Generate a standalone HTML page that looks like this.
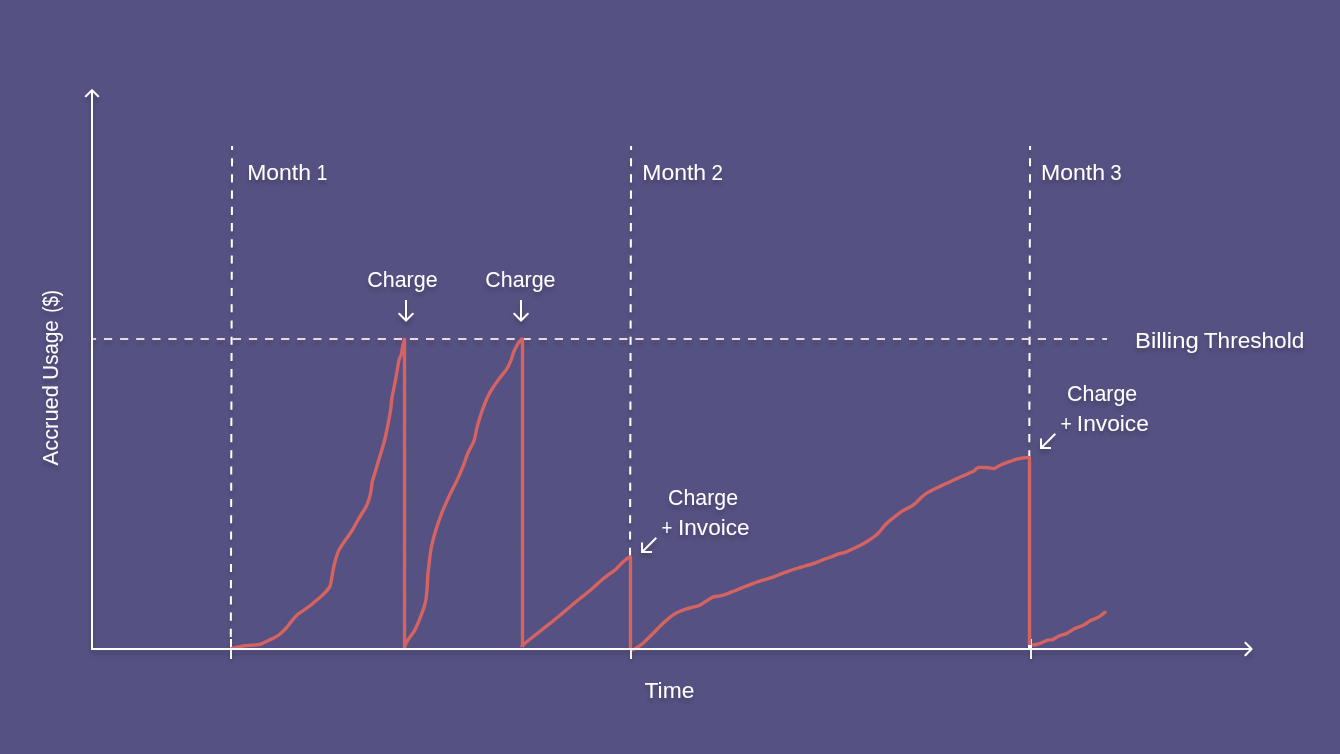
<!DOCTYPE html>
<html><head><meta charset="utf-8"><style>
html,body{margin:0;padding:0;background:#555182;width:1340px;height:754px;overflow:hidden}
svg{display:block}
text{font-family:"Liberation Sans",sans-serif;font-size:22.8px;fill:#fff}
</style></head><body>
<svg width="1340" height="754" viewBox="0 0 1340 754">
<defs><filter id="sh" x="-5%" y="-5%" width="110%" height="120%"><feDropShadow dx="0" dy="4" stdDeviation="2" flood-color="#000" flood-opacity="0.2"/></filter></defs>
<g filter="url(#sh)">
<g stroke="#fff" stroke-width="2" fill="none">
<line x1="232.08" y1="146" x2="230.82" y2="637" stroke-dasharray="8.1 8.13" stroke-dashoffset="4.1"/>
<line x1="631.08" y1="146" x2="630.03" y2="556" stroke-dasharray="8.1 8.13" stroke-dashoffset="4.1"/>
<line x1="1030.08" y1="146" x2="1029.28" y2="458" stroke-dasharray="8.1 8.13" stroke-dashoffset="4.1"/>
<line x1="231" y1="639" x2="231" y2="659"/>
<line x1="631" y1="639" x2="631" y2="659"/>
<line x1="1031" y1="639" x2="1031" y2="659"/>
</g>
<line x1="92" y1="339" x2="1107" y2="339" stroke="#e9d9d9" stroke-width="2" stroke-dasharray="8.2 7.9" stroke-dashoffset="4.1"/>
</g>
<path d="M231.0,649.0 C231.2,648.9 230.9,648.6 232.1,648.3 C233.3,647.9 236.1,647.3 238.3,646.9 C240.5,646.5 242.9,646.0 245.2,645.7 C247.5,645.4 249.8,645.4 252.1,645.2 C254.4,645.0 257.3,644.8 259.0,644.5 C260.7,644.2 260.8,644.1 262.5,643.4 C264.2,642.6 267.1,641.1 269.4,640.0 C271.7,638.9 274.2,637.9 276.3,636.6 C278.4,635.3 280.1,633.9 281.8,632.4 C283.5,630.9 285.0,629.4 286.6,627.6 C288.2,625.8 289.6,623.6 291.4,621.4 C293.2,619.2 295.6,616.4 297.5,614.6 C299.4,612.9 301.0,612.1 302.8,610.9 C304.6,609.7 306.3,608.5 308.1,607.2 C309.9,605.9 311.6,604.4 313.4,602.9 C315.2,601.4 316.9,600.0 318.7,598.5 C320.5,597.0 322.2,595.4 324.0,593.6 C325.8,591.8 328.2,589.3 329.3,587.5 C330.4,585.7 330.4,584.6 330.9,582.7 C331.3,580.9 331.5,579.1 332.0,576.4 C332.5,573.6 333.0,570.1 333.9,566.2 C334.8,562.3 336.5,556.3 337.6,553.2 C338.7,550.1 339.0,549.9 340.4,547.6 C341.8,545.3 344.0,542.2 346.0,539.3 C348.0,536.4 350.5,533.0 352.4,530.0 C354.3,527.0 355.6,524.1 357.2,521.4 C358.8,518.6 360.4,515.9 361.9,513.5 C363.3,511.1 364.7,509.5 365.9,507.1 C367.1,504.7 368.2,502.0 369.1,499.1 C370.0,496.2 370.7,492.5 371.2,489.6 C371.7,486.7 371.7,484.2 372.3,481.6 C372.9,479.0 373.5,477.7 374.7,473.7 C375.9,469.7 377.8,463.0 379.4,457.7 C381.0,452.4 382.8,447.1 384.2,441.8 C385.6,436.5 386.6,431.2 387.7,425.9 C388.8,420.6 389.9,414.5 390.6,410.0 C391.3,405.5 391.2,402.4 391.8,398.7 C392.4,395.0 393.2,391.6 393.9,388.0 C394.6,384.4 395.4,380.9 396.0,377.4 C396.6,373.9 397.3,369.8 397.8,366.8 C398.3,363.8 398.6,361.5 399.2,359.4 C399.8,357.3 400.7,356.4 401.3,354.1 C401.9,351.8 402.4,348.1 402.9,345.6 C403.4,343.1 404.2,340.4 404.5,339.3 L404.5,648 M404.5,648.0 C404.6,647.5 404.7,646.4 405.3,645.0 C405.9,643.6 406.4,642.1 408.0,639.7 C409.6,637.3 412.6,634.0 414.6,630.4 C416.6,626.8 418.3,622.2 419.9,618.4 C421.4,614.6 422.9,610.9 423.9,607.8 C424.9,604.7 425.3,603.3 425.9,599.8 C426.4,596.3 426.9,591.0 427.2,586.6 C427.5,582.2 427.7,576.1 427.9,573.3 C428.1,570.5 427.9,574.1 428.4,570.0 C428.9,565.9 429.9,555.4 431.1,548.8 C432.3,542.2 433.9,536.5 435.8,530.3 C437.7,524.1 440.0,517.6 442.3,511.7 C444.6,505.8 447.2,500.3 449.7,495.0 C452.2,489.7 454.9,484.8 457.1,480.1 C459.3,475.5 460.8,471.7 462.7,467.1 C464.6,462.5 466.4,456.6 468.3,452.3 C470.2,448.0 472.7,444.2 473.9,441.1 C475.1,438.0 475.1,436.1 475.7,433.7 C476.3,431.2 476.3,430.0 477.3,426.4 C478.3,422.8 480.0,416.7 481.7,411.8 C483.4,406.9 485.6,401.4 487.5,397.2 C489.4,393.0 491.2,390.3 493.4,386.9 C495.6,383.5 498.5,379.6 500.7,376.7 C502.9,373.8 504.8,372.1 506.5,369.4 C508.2,366.7 509.7,363.6 510.9,360.7 C512.1,357.8 512.7,354.6 513.8,351.9 C514.9,349.2 516.1,346.7 517.4,344.6 C518.6,342.5 520.4,340.4 521.3,339.5 C522.1,338.6 522.3,339.3 522.5,339.3 L522.5,647 M522.5,647.0 C522.8,646.5 520.4,647.2 524.0,644.1 C527.6,641.0 537.9,633.0 543.9,628.2 C549.9,623.4 554.6,619.8 559.8,615.5 C565.0,611.2 571.1,605.7 575.0,602.5 C578.9,599.3 580.4,598.2 583.0,596.1 C585.6,594.0 588.2,592.0 590.9,589.8 C593.5,587.5 596.9,584.4 598.9,582.6 C600.9,580.8 601.5,580.1 602.8,579.0 C604.1,577.9 605.5,576.9 606.8,575.9 C608.1,574.9 609.5,574.0 610.8,573.1 C612.1,572.2 613.5,571.4 614.8,570.3 C616.1,569.2 617.5,567.6 618.8,566.3 C620.1,565.0 621.4,563.5 622.7,562.3 C624.0,561.0 625.6,559.6 626.7,558.8 C627.8,557.9 628.8,557.5 629.4,557.2 C630.0,556.9 630.3,557.0 630.5,557.0 L630.5,648 M631.6,650.2 C632.0,650.0 632.8,650.0 634.3,649.1 C635.8,648.2 638.9,646.5 640.9,645.0 C642.9,643.5 644.5,641.8 646.3,640.1 C648.1,638.4 649.9,636.5 651.7,634.7 C653.5,632.9 655.4,631.0 657.2,629.2 C659.0,627.4 660.8,625.5 662.6,623.8 C664.4,622.1 666.2,620.4 668.0,618.9 C669.8,617.4 671.7,615.8 673.5,614.6 C675.3,613.4 677.1,612.6 678.9,611.8 C680.7,611.0 682.5,610.3 684.3,609.7 C686.1,609.1 688.0,608.5 689.8,608.0 C691.6,607.5 693.6,607.2 695.2,606.7 C696.8,606.2 698.2,606.0 699.6,605.3 C701.0,604.6 702.6,603.4 703.9,602.6 C705.2,601.8 705.9,601.4 707.5,600.4 C709.1,599.4 711.3,597.6 713.4,596.9 C715.5,596.1 717.9,596.4 720.1,595.9 C722.4,595.4 724.6,594.7 726.9,593.9 C729.1,593.1 731.4,592.1 733.6,591.2 C735.8,590.3 738.1,589.4 740.3,588.5 C742.5,587.6 744.8,586.8 747.0,585.9 C749.2,585.0 751.5,584.1 753.7,583.2 C755.9,582.4 758.1,581.5 760.4,580.8 C762.6,580.1 765.0,579.5 767.2,578.8 C769.5,578.1 771.7,577.6 773.9,576.8 C776.1,576.0 778.6,574.9 780.6,574.1 C782.6,573.3 784.1,572.9 786.0,572.2 C787.9,571.5 789.6,570.7 791.7,570.0 C793.8,569.3 796.2,568.7 798.4,568.0 C800.6,567.3 802.9,566.7 805.1,566.0 C807.4,565.3 809.6,564.7 811.9,564.0 C814.1,563.3 816.4,562.5 818.6,561.6 C820.8,560.8 823.1,559.7 825.3,558.9 C827.5,558.1 829.8,557.4 832.0,556.6 C834.2,555.8 836.5,554.6 838.7,553.9 C840.9,553.2 842.6,553.2 845.0,552.3 C847.4,551.4 850.4,549.9 853.0,548.7 C855.6,547.5 858.2,546.5 860.9,545.1 C863.5,543.7 866.5,541.8 868.9,540.3 C871.2,538.8 873.3,537.3 875.0,536.0 C876.7,534.7 877.2,534.3 879.0,532.3 C880.8,530.3 883.4,526.7 885.9,524.2 C888.4,521.7 891.2,519.5 893.9,517.4 C896.5,515.3 899.1,513.1 901.8,511.4 C904.4,509.7 907.8,508.1 909.8,507.0 C911.8,505.9 912.5,505.7 913.8,504.7 C915.1,503.7 916.4,502.4 917.7,501.1 C919.0,499.8 920.4,498.3 921.7,497.1 C923.0,495.9 923.7,495.2 925.7,493.9 C927.7,492.6 931.0,490.9 933.6,489.5 C936.2,488.1 938.9,486.9 941.6,485.6 C944.3,484.4 947.2,483.1 949.6,482.0 C952.0,480.9 954.1,479.9 956.3,478.9 C958.5,477.9 960.6,476.9 962.7,476.0 C964.8,475.1 967.1,474.1 969.0,473.2 C970.9,472.3 972.8,471.7 974.1,470.9 C975.4,470.1 975.5,469.0 976.6,468.4 C977.7,467.8 978.6,467.5 980.5,467.4 C982.4,467.3 985.8,467.6 988.1,467.8 C990.4,468.0 992.7,468.7 994.4,468.4 C996.1,468.1 996.6,467.0 998.2,466.2 C999.8,465.4 1001.9,464.4 1003.9,463.6 C1005.9,462.8 1008.2,462.1 1010.3,461.4 C1012.4,460.7 1014.5,459.8 1016.6,459.2 C1018.7,458.6 1021.1,458.2 1023.0,457.9 C1024.9,457.6 1026.9,457.7 1028.0,457.6 C1029.1,457.6 1029.2,457.6 1029.5,457.6 L1029.5,645 M1032.1,645.2 C1033.2,645.0 1036.0,644.8 1038.6,643.9 C1041.2,643.0 1045.6,640.8 1047.9,640.1 C1050.2,639.4 1050.7,640.4 1052.5,639.7 C1054.3,639.0 1056.7,637.0 1059.0,636.0 C1061.3,635.0 1063.9,634.8 1066.4,633.6 C1068.9,632.4 1071.1,630.4 1073.9,629.0 C1076.7,627.6 1080.3,626.7 1083.1,625.3 C1085.9,623.9 1088.0,622.0 1090.6,620.6 C1093.2,619.2 1096.5,618.3 1098.9,616.9 C1101.3,615.5 1104.0,613.1 1105.0,612.3" stroke="#d46362" stroke-width="3.4" fill="none" stroke-linejoin="round" stroke-linecap="butt"/>
<circle cx="1105" cy="612.3" r="1.7" fill="#d46362"/>
<rect x="1028" y="645" width="4" height="4" fill="#fff"/>
<g filter="url(#sh)">
<g stroke="#fff" stroke-width="2" fill="none">
<line x1="92" y1="650" x2="92" y2="90.5"/>
<polyline points="85.8,96.3 92,90.1 98.2,96.3" stroke-linejoin="round" stroke-linecap="round"/>
<line x1="91" y1="649" x2="1251" y2="649"/>
<polyline points="1245.4,642.8 1251.6,649 1245.4,655.2" stroke-linejoin="round" stroke-linecap="round"/>
<line x1="406" y1="300" x2="406" y2="320"/>
<polyline points="399.2,313.8 406,320.6 412.8,313.8" stroke-linejoin="round" stroke-linecap="round"/>
<line x1="521" y1="300" x2="521" y2="320"/>
<polyline points="514.2,313.8 521,320.6 527.8,313.8" stroke-linejoin="round" stroke-linecap="round"/>
<line x1="656.3" y1="537.8" x2="643" y2="551.1"/>
<polyline points="642,542.4 642,552 652,552"/>
<line x1="1055.3" y1="433.8" x2="1042" y2="447.1"/>
<polyline points="1041,438.4 1041,448 1051,448"/>
</g>
<text x="247.21" y="180" textLength="63.73" lengthAdjust="spacingAndGlyphs">Month</text><text x="316.76" y="180" textLength="10.64" lengthAdjust="spacingAndGlyphs">1</text><text x="642.31" y="180" textLength="63.83" lengthAdjust="spacingAndGlyphs">Month</text><text x="711.38" y="180" textLength="11.51" lengthAdjust="spacingAndGlyphs">2</text><text x="1041.00" y="180" textLength="64.04" lengthAdjust="spacingAndGlyphs">Month</text><text x="1110.36" y="180" textLength="11.43" lengthAdjust="spacingAndGlyphs">3</text><text x="367.24" y="287" textLength="70.38" lengthAdjust="spacingAndGlyphs">Charge</text><text x="485.34" y="287" textLength="70.18" lengthAdjust="spacingAndGlyphs">Charge</text><text x="1135.09" y="347.5" textLength="63.61" lengthAdjust="spacingAndGlyphs">Billing</text><text x="1203.80" y="347.5" textLength="100.46" lengthAdjust="spacingAndGlyphs">Threshold</text><text x="668.04" y="505" textLength="69.97" lengthAdjust="spacingAndGlyphs">Charge</text><text x="661.51" y="535" textLength="10.88" lengthAdjust="spacingAndGlyphs">+</text><text x="678.04" y="535" textLength="71.51" lengthAdjust="spacingAndGlyphs">Invoice</text><text x="1067.04" y="401" textLength="70.18" lengthAdjust="spacingAndGlyphs">Charge</text><text x="1060.38" y="431" textLength="11.24" lengthAdjust="spacingAndGlyphs">+</text><text x="1076.82" y="431" textLength="72.04" lengthAdjust="spacingAndGlyphs">Invoice</text><text x="644.49" y="698" textLength="49.85" lengthAdjust="spacingAndGlyphs">Time</text><text x="0" y="0" transform="translate(58.20,465.41) rotate(-90)" textLength="80.37" lengthAdjust="spacingAndGlyphs">Accrued</text><text x="0" y="0" transform="translate(58.20,379.67) rotate(-90)" textLength="59.42" lengthAdjust="spacingAndGlyphs">Usage</text><text x="0" y="0" transform="translate(58.20,312.71) rotate(-90)" textLength="22.57" lengthAdjust="spacingAndGlyphs">($)</text>
</g>
</svg>
</body></html>
